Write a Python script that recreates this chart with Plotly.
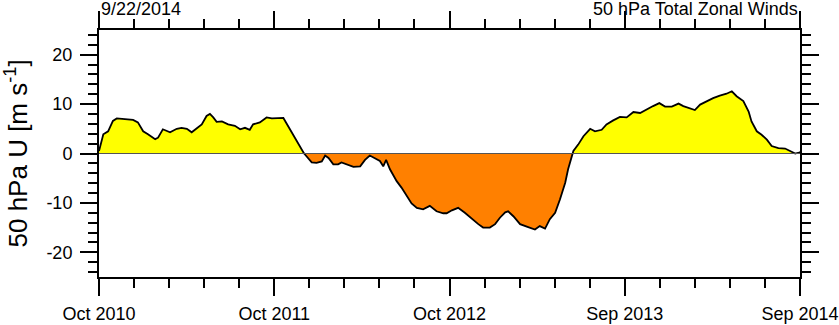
import numpy as np
import plotly.graph_objects as go

# Day index since start of record (Oct 2010 .. Sep 2014) and 50 hPa zonal wind (m/s)
days = [0, 2, 9, 19, 29, 37, 54, 71, 81, 92, 102, 117, 123, 133, 148, 162, 172, 183,
        193, 203, 214, 224, 231, 238, 245, 256, 269, 283, 294, 304, 314, 321, 335, 349,
        360, 384, 398, 414, 427, 429, 436, 443, 453, 464, 471, 478, 488, 498, 505, 516,
        530, 544, 554, 564, 575, 585, 592, 598, 606, 620, 630, 641, 651, 662, 675, 689,
        703, 717, 724, 735, 748, 762, 776, 790, 800, 814, 825, 835, 846, 852, 863, 877,
        891, 908, 918, 929, 939, 950, 960, 971, 977, 984, 986, 988, 998, 1009, 1023,
        1033, 1047, 1057, 1071, 1085, 1099, 1113, 1127, 1141, 1154, 1167, 1179, 1193,
        1207, 1217, 1228, 1241, 1252, 1266, 1279, 1293, 1307, 1318, 1328, 1342, 1353,
        1359, 1370, 1380, 1391, 1401, 1415, 1429, 1439, 1450, 1458, 1460]
wind = [0.5, 1.2, 3.9, 4.5, 6.6, 7.1, 6.9, 6.8, 6.3, 4.5, 3.9, 2.9, 3.2, 4.9, 4.3, 5.0,
        5.2, 5.0, 4.3, 5.0, 5.9, 7.6, 8.0, 7.3, 6.4, 6.5, 5.9, 5.6, 4.9, 5.2, 4.8, 5.9,
        6.3, 7.3, 7.1, 7.2, 4.8, 2.1, 0.0, -0.2, -0.9, -1.8, -1.9, -1.6, -0.4, -0.9, -2.2,
        -2.2, -1.8, -2.2, -2.7, -2.6, -1.3, -0.4, -0.9, -1.5, -2.6, -1.3, -3.2, -5.6,
        -6.9, -8.6, -10.1, -11.0, -11.3, -10.6, -11.7, -12.1, -12.1, -11.5, -11.0, -12.0,
        -13.2, -14.3, -15.0, -15.0, -14.3, -13.0, -11.9, -11.7, -12.7, -14.3, -14.8,
        -15.4, -14.7, -15.2, -13.3, -12.0, -9.3, -5.9, -3.2, -0.5, 0.0, 0.5, 1.8, 3.5,
        5.0, 4.5, 4.8, 5.9, 6.7, 7.4, 7.3, 8.4, 8.2, 9.0, 9.6, 10.2, 9.5, 9.5, 10.1, 9.6,
        9.2, 8.8, 9.9, 10.6, 11.2, 11.7, 12.1, 12.6, 11.6, 10.6, 8.5, 6.5, 4.5, 3.8, 2.8,
        1.5, 1.1, 1.0, 0.5, 0.0, 0.2, 0.3]

x_tickvals = [0, 365, 730, 1095, 1460]
x_ticktext = ["Oct 2010", "Oct 2011", "Oct 2012", "Sep 2013", "Sep 2014"]
y_tickvals = [-20, -10, 0, 10, 20]
y_ticktext = ["-20", "-10", "0", "10", "20"]

title_left = "9/22/2014"
title_right = "50 hPa Total Zonal Winds"
y_title = "50 hPa U [m s<sup>-1</sup>]"

w = np.array(wind)
pos = np.maximum(w, 0)
neg = np.minimum(w, 0)

FONT = "Liberation Sans, Arial, Helvetica, sans-serif"

fig = go.Figure()
fig.add_trace(go.Scatter(x=days, y=pos, mode="lines", line=dict(width=0),
                         fill="tozeroy", fillcolor="#FFFF00", hoverinfo="skip"))
fig.add_trace(go.Scatter(x=days, y=neg, mode="lines", line=dict(width=0),
                         fill="tozeroy", fillcolor="#FF8000", hoverinfo="skip"))
fig.add_hline(y=0, line=dict(color="#555555", width=1))
fig.add_trace(go.Scatter(x=days, y=wind, mode="lines",
                         line=dict(color="black", width=1.8)))

axis_common = dict(showline=True, linecolor="black", linewidth=2, mirror="ticks",
                   ticks="outside", ticklen=17, tickwidth=2, tickcolor="black",
                   showgrid=False, zeroline=False, automargin=False,
                   tickfont=dict(family=FONT, size=18, color="black"))

fig.update_xaxes(range=[0, 1460], tickmode="array", tickvals=x_tickvals,
                 ticktext=x_ticktext, ticklabelstandoff=2,
                 minor=dict(tickmode="linear", tick0=0, dtick=73, ticks="outside",
                            ticklen=9, tickwidth=1.5, tickcolor="black", showgrid=False),
                 **axis_common)
fig.update_yaxes(range=[-25, 25], tickmode="array", tickvals=y_tickvals,
                 ticktext=y_ticktext, ticklabelstandoff=4,
                 minor=dict(tickmode="linear", tick0=0, dtick=2, ticks="outside",
                            ticklen=9, tickwidth=1.5, tickcolor="black", showgrid=False),
                 **axis_common)

fig.add_annotation(text=title_left, xref="paper", yref="paper", x=0, y=1,
                   xanchor="left", yanchor="bottom", yshift=9, showarrow=False,
                   font=dict(family=FONT, size=18, color="black"))
fig.add_annotation(text=title_right, xref="paper", yref="paper", x=1, y=1,
                   xanchor="right", yanchor="bottom", yshift=9, showarrow=False,
                   font=dict(family=FONT, size=18, color="black"))
fig.add_annotation(text=y_title, xref="paper", yref="paper", x=-0.117, y=0.5,
                   xanchor="center", yanchor="middle", textangle=-90, showarrow=False,
                   font=dict(family=FONT, size=26, color="black"))

fig.update_layout(width=839, height=325, margin=dict(l=99, r=39, t=30, b=48),
                  plot_bgcolor="white", paper_bgcolor="white", showlegend=False)

fig.write_html("out.html", config={"displayModeBar": False},
               post_script="document.body.style.margin='0';document.body.style.overflow='hidden';")
